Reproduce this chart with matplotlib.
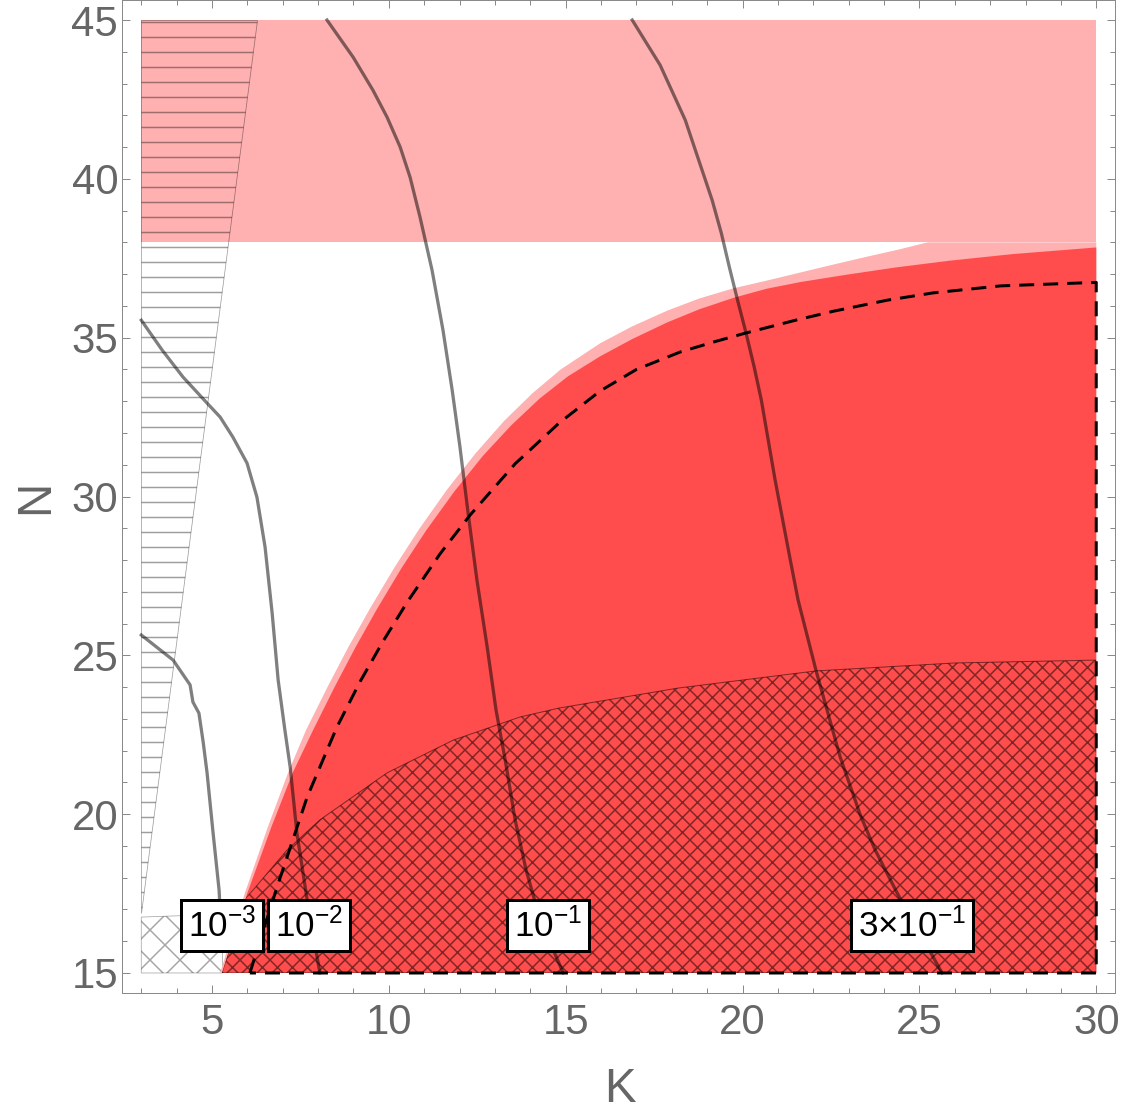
import matplotlib
matplotlib.use("Agg")
import matplotlib.pyplot as plt
from matplotlib.ticker import MultipleLocator

plt.rcParams['font.family'] = ['Liberation Sans', 'DejaVu Sans']
plt.rcParams['mathtext.fontset'] = 'custom'
plt.rcParams['mathtext.rm'] = 'Liberation Sans'
plt.rcParams['mathtext.it'] = 'Liberation Sans:italic'
plt.rcParams['mathtext.bf'] = 'Liberation Sans:bold'
plt.rcParams['hatch.linewidth'] = 1.2

PINK = '#ffb0b0'
RED = '#ff4d4d'
GRAY_TXT = '#666666'
GRAY_AX = '#8a8a8a'

# excluded band at large N
band_K = [3.0, 30.0]
band_N = [38.0, 45.0]

# horizontally hatched wedge on the left
wedge_K = [3.0, 3.0, 6.27]
wedge_N = [16.9, 45.0, 45.0]

# gray cross-hatched corner at small K, small N
corner_K = [3.0, 3.0, 5.3, 5.3]
corner_N = [15.0, 16.76, 16.85, 15.0]

# outer (light) allowed region, upper edge
light_K = [5.23, 5.93, 6.58, 7.15, 7.66, 8.26, 8.86, 9.46, 10.16, 10.86, 11.66,
           12.46, 13.26, 14.06, 14.86, 15.97, 16.87, 17.87, 18.77, 19.73, 20.7,
           21.63, 22.6, 23.52, 24.4, 25.16, 25.24, 30.0]
light_N = [15.0, 17.52, 19.6, 21.3, 22.65, 23.99, 25.27, 26.46, 27.77, 28.98, 30.24,
           31.37, 32.38, 33.25, 34.0, 34.82, 35.35, 35.85, 36.23, 36.55, 36.80,
           37.05, 37.31, 37.55, 37.77, 37.98, 38.0, 38.0]

# inner (red) region, upper edge
red_K = [5.28, 6.0, 6.68, 7.28, 7.86, 8.46, 9.06, 9.66, 10.36, 11.06, 11.86,
         12.66, 13.46, 14.26, 15.06, 15.97, 16.87, 17.87, 18.77, 19.73, 20.68,
         21.63, 22.93, 24.33, 25.83, 27.63, 30.0]
red_N = [15.0, 17.52, 19.6, 21.3, 22.65, 23.99, 25.26, 26.45, 27.75, 28.94, 30.17,
         31.28, 32.24, 33.08, 33.78, 34.41, 34.95, 35.48, 35.89, 36.25, 36.54,
         36.75, 36.98, 37.21, 37.42, 37.63, 37.84]

# cross-hatched part of the red region, upper edge
xh_K = [5.95, 6.16, 7.12, 8.05, 9.95, 11.82, 13.71, 14.81, 18.18, 22.08, 26.01, 30.0]
xh_N = [17.35, 17.61, 18.87, 19.82, 21.30, 22.33, 23.06, 23.34, 23.97, 24.51, 24.76, 24.85]

# dashed boundary
dash_K = [6.07, 6.84, 7.69, 8.53, 9.19, 9.84, 10.51, 11.45, 12.30, 13.57, 14.8, 15.97,
          17.0, 18.24, 19.2, 20.07, 21.5, 22.56, 24.09, 25.39, 27.29, 30.0]
dash_N = [15.0, 17.71, 20.54, 22.74, 24.18, 25.45, 26.66, 28.20, 29.42, 31.03, 32.3, 33.32,
          34.0, 34.55, 34.87, 35.14, 35.55, 35.83, 36.18, 36.41, 36.63, 36.74]

# contour lines
c1_K = [3.0, 3.90, 4.38, 4.46, 4.63, 4.75, 4.86, 5.03, 5.20, 5.26]
c1_N = [25.64, 24.85, 24.07, 23.53, 23.18, 22.27, 21.30, 19.41, 17.61, 16.3]

c2_K = [3.0, 3.59, 4.18, 4.86, 5.23, 5.59, 5.99, 6.27, 6.50, 6.70, 6.87, 7.06,
        7.21, 7.40, 7.69, 8.05]
c2_N = [35.55, 34.61, 33.76, 32.94, 32.50, 31.87, 31.05, 29.98, 28.41, 26.33, 24.22,
        22.65, 21.48, 19.41, 17.30, 15.0]

c3_K = [8.25, 8.99, 9.55, 9.95, 10.32, 10.60, 10.88, 11.22, 11.53, 11.79, 12.01,
        12.24, 12.49, 12.78, 13.03, 13.29, 13.57, 13.88, 14.28, 14.93]
c3_N = [45.0, 43.83, 42.79, 41.94, 41.0, 40.05, 38.80, 37.13, 35.24, 33.35, 31.56,
        29.48, 27.37, 25.26, 23.28, 21.70, 19.82, 18.24, 16.67, 15.0]

c4_K = [16.88, 17.67, 18.38, 19.14, 19.40, 19.62, 19.85, 20.10, 20.33, 20.53, 20.92,
        21.35, 21.57, 22.08, 22.76, 23.33, 23.75, 24.37, 25.39, 25.64]
c4_N = [45.0, 43.58, 41.85, 39.33, 38.29, 37.25, 36.22, 35.14, 34.07, 33.04, 30.52,
        28.0, 26.74, 24.51, 21.80, 19.97, 18.87, 17.52, 15.50, 15.0]

contours = [(c1_K, c1_N), (c2_K, c2_N), (c3_K, c3_N), (c4_K, c4_N)]

lab_text = [r'$10^{-3}$', r'$10^{-2}$', r'$10^{-1}$', r'$3{\times}10^{-1}$']
lab_K = [5.28, 7.74, 14.50, 24.80]
lab_N = [16.5, 16.5, 16.5, 16.5]

xticks = [5, 10, 15, 20, 25, 30]
yticks = [15, 20, 25, 30, 35, 40, 45]

fig = plt.figure(figsize=(1125 / 90, 1114 / 90), dpi=90)
ax = fig.add_axes([122 / 1125, 121 / 1114, 993 / 1125, 993 / 1114])

ax.fill(corner_K, corner_N, facecolor='none', edgecolor=(0, 0, 0, 0.35),
        hatch='x', lw=0.6, zorder=1)
ax.fill_between(band_K, band_N[0], band_N[1], color=PINK, lw=0, zorder=2)
ax.fill(light_K + [30.0], light_N + [15.0], color=PINK, lw=0, zorder=2)
red_patch = ax.fill(red_K + [30.0], red_N + [15.0], color=RED, lw=0, zorder=3)[0]

xh = ax.fill(xh_K + [30.0, red_K[0]], xh_N + [15.0, 15.0], facecolor='none',
             edgecolor=(0, 0, 0, 0.5), hatch='xx', lw=0.8, zorder=4)[0]
xh.set_clip_path(red_patch)

ax.fill(wedge_K, wedge_N, facecolor='none', edgecolor=(0, 0, 0, 0.38),
        hatch='-', lw=0.6, zorder=5)

for k, n in contours:
    ax.plot(k, n, color='black', alpha=0.5, lw=2.6, zorder=6)

ax.plot(dash_K + [30.0, dash_K[0]], dash_N + [15.0, 15.0], color='black',
        lw=2.4, ls=(0, (5, 3)), zorder=7)

for t, k, n in zip(lab_text, lab_K, lab_N):
    ax.text(k, n, t, ha='center', va='center', fontsize=28, zorder=8,
            bbox=dict(boxstyle='square,pad=0.2', fc='white', ec='black', lw=2.4))

ax.set_xlim(2.455, 30.53)
ax.set_ylim(14.37, 45.63)
ax.set_xticks(xticks)
ax.set_yticks(yticks)
ax.xaxis.set_minor_locator(MultipleLocator(1))
ax.yaxis.set_minor_locator(MultipleLocator(1))
ax.tick_params(which='both', direction='in', top=True, right=True,
               color=GRAY_AX, width=0.8, labelsize=33.5, labelcolor=GRAY_TXT)
ax.tick_params(axis='x', which='major', pad=8)
ax.tick_params(axis='y', which='major', pad=3)
ax.tick_params(which='major', length=6.4)
ax.tick_params(which='minor', length=4)
for s in ax.spines.values():
    s.set_color(GRAY_AX)
    s.set_linewidth(0.8)

ax.set_xlabel('K', fontsize=38, color=GRAY_TXT)
ax.xaxis.set_label_coords(0.5015, -0.0745)
ax.set_ylabel('N', fontsize=38, color=GRAY_TXT)
ax.yaxis.set_label_coords(-0.0645, 0.5)

fig.savefig('out.png', dpi=90)
